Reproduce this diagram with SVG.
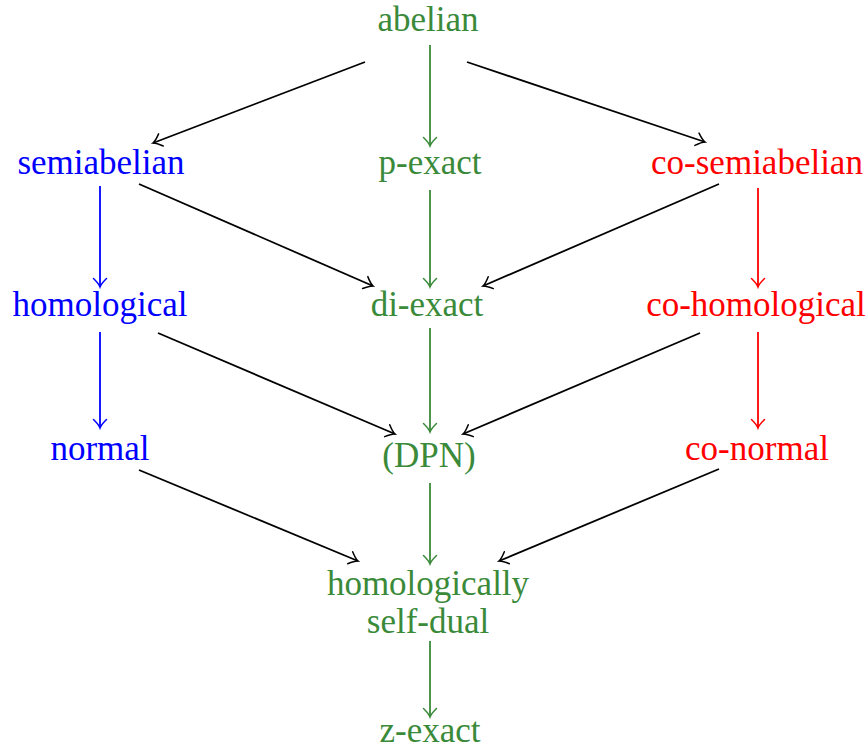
<svg xmlns="http://www.w3.org/2000/svg" width="868" height="750" viewBox="0 0 868 750">
<style>
text{font-family:"Liberation Serif","Times New Roman",serif;font-size:35px;text-anchor:middle}
.g{fill:#3a8a3a}.b{fill:#0000ff}.r{fill:#ff0000}
line{stroke-width:1.8;fill:none}
.k{stroke:#000}.gl{stroke:#3a8a3a}.bl{stroke:#0000ff}.rl{stroke:#ff0000}
</style>
<defs>
<marker id="ak" markerUnits="userSpaceOnUse" markerWidth="20" markerHeight="20" refX="0" refY="0" viewBox="-10 -10 20 20" orient="auto" overflow="visible"><path d="M-8.5,-6.5 Q-3,-1 0,0 Q-3,1 -8.5,6.5" fill="none" stroke="#000" stroke-width="1.5" stroke-linecap="round"/></marker>
<marker id="ag" markerUnits="userSpaceOnUse" markerWidth="20" markerHeight="20" refX="0" refY="0" viewBox="-10 -10 20 20" orient="auto" overflow="visible"><path d="M-8.5,-6.5 Q-3,-1 0,0 Q-3,1 -8.5,6.5" fill="none" stroke="#3a8a3a" stroke-width="1.5" stroke-linecap="round"/></marker>
<marker id="ab" markerUnits="userSpaceOnUse" markerWidth="20" markerHeight="20" refX="0" refY="0" viewBox="-10 -10 20 20" orient="auto" overflow="visible"><path d="M-8.5,-6.5 Q-3,-1 0,0 Q-3,1 -8.5,6.5" fill="none" stroke="#0000ff" stroke-width="1.5" stroke-linecap="round"/></marker>
<marker id="ar" markerUnits="userSpaceOnUse" markerWidth="20" markerHeight="20" refX="0" refY="0" viewBox="-10 -10 20 20" orient="auto" overflow="visible"><path d="M-8.5,-6.5 Q-3,-1 0,0 Q-3,1 -8.5,6.5" fill="none" stroke="#ff0000" stroke-width="1.5" stroke-linecap="round"/></marker>
</defs>
<rect width="868" height="750" fill="#fff"/>
<g id="connectors">
<line class="k" x1="365" y1="62" x2="153" y2="143" marker-end="url(#ak)"/>
<line class="gl" x1="430" y1="45" x2="430" y2="146" marker-end="url(#ag)"/>
<line class="k" x1="467" y1="62" x2="705" y2="142" marker-end="url(#ak)"/>
<line class="bl" x1="100" y1="186" x2="100" y2="287" marker-end="url(#ab)"/>
<line class="k" x1="139" y1="184" x2="373" y2="286" marker-end="url(#ak)"/>
<line class="gl" x1="430" y1="190" x2="430" y2="287" marker-end="url(#ag)"/>
<line class="k" x1="719" y1="184" x2="483" y2="286" marker-end="url(#ak)"/>
<line class="rl" x1="758" y1="188" x2="758" y2="287" marker-end="url(#ar)"/>
<line class="bl" x1="100" y1="332" x2="100" y2="428" marker-end="url(#ab)"/>
<line class="k" x1="158" y1="333" x2="395" y2="434" marker-end="url(#ak)"/>
<line class="gl" x1="430" y1="328" x2="430" y2="432" marker-end="url(#ag)"/>
<line class="k" x1="700" y1="333" x2="463" y2="434" marker-end="url(#ak)"/>
<line class="rl" x1="758" y1="332" x2="758" y2="428" marker-end="url(#ar)"/>
<line class="k" x1="139" y1="470" x2="358" y2="561" marker-end="url(#ak)"/>
<line class="gl" x1="430" y1="483" x2="430" y2="564" marker-end="url(#ag)"/>
<line class="k" x1="719" y1="469" x2="499" y2="561" marker-end="url(#ak)"/>
<line class="gl" x1="430" y1="641" x2="430" y2="717" marker-end="url(#ag)"/>
</g>
<g id="abelian"><text class="g" x="428" y="31">abelian</text></g>
<g id="semiabelian"><text class="b" x="101" y="174">semiabelian</text></g>
<g id="p-exact"><text class="g" x="430" y="174">p-exact</text></g>
<g id="co-semiabelian"><text class="r" x="757" y="174">co-semiabelian</text></g>
<g id="homological"><text class="b" x="100" y="316">homological</text></g>
<g id="di-exact"><text class="g" x="427" y="316">di-exact</text></g>
<g id="co-homological"><text class="r" x="756" y="316">co-homological</text></g>
<g id="normal"><text class="b" x="100" y="460">normal</text></g>
<g id="DPN"><text class="g" x="429" y="467">(DPN)</text></g>
<g id="co-normal"><text class="r" x="757" y="460">co-normal</text></g>
<g id="homologically-self-dual"><text class="g" x="428" y="595">homologically</text><text class="g" x="428" y="633">self-dual</text></g>
<g id="z-exact"><text class="g" x="430" y="742">z-exact</text></g>
</svg>
